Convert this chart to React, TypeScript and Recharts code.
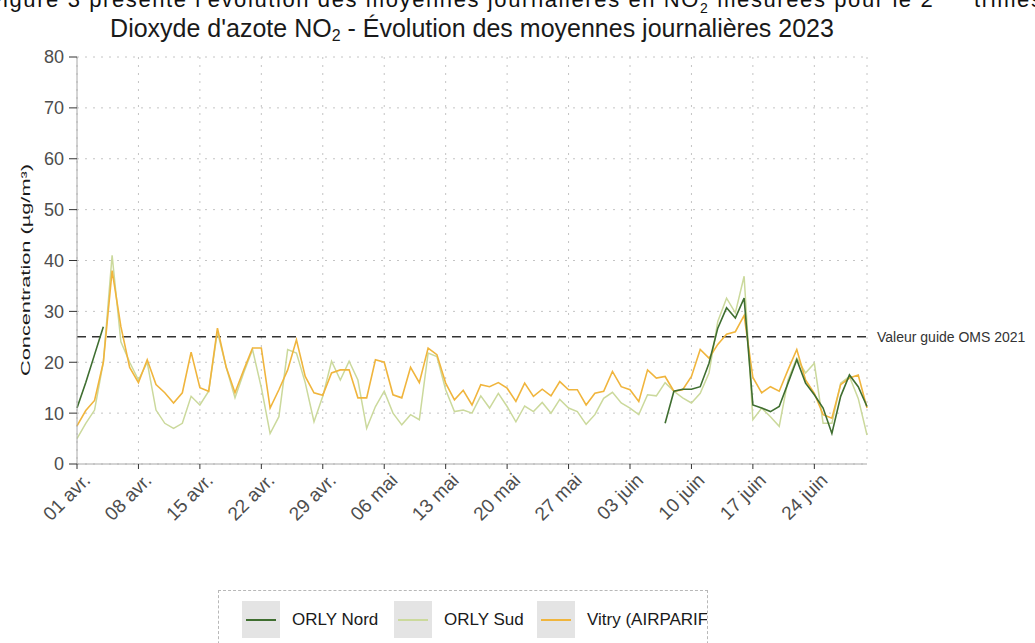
import { LineChart, Line, XAxis, YAxis, CartesianGrid, ReferenceLine } from 'recharts';

// day index 0 = 01 avr. 2023, 90 = 30 juin 2023
const tickDays = [0, 7, 14, 21, 28, 35, 42, 49, 56, 63, 70, 77, 84];
const tickLabels = ['01 avr.', '08 avr.', '15 avr.', '22 avr.', '29 avr.', '06 mai', '13 mai', '20 mai', '27 mai', '03 juin', '10 juin', '17 juin', '24 juin'];
const yTicks = [0, 10, 20, 30, 40, 50, 60, 70, 80];

// Vitry (AIRPARIF), daily means
const vitry = [
  7.5, 10.5, 12.5, 20, 38, 27, 19, 16, 20.5, 15.6,
  14, 12, 14, 22, 15, 14.3, 26.7, 19, 14, 18.5,
  22.8, 22.8, 11, 14.6, 18.5, 24.4, 17.2, 14, 13.5, 17.9,
  18.5, 18.5, 13, 13, 20.5, 20, 13.6, 13, 19, 16,
  22.8, 21.5, 15.9, 12.6, 14.5, 11.6, 15.6, 15.2, 16, 14.9,
  12.3, 15.9, 13.3, 14.7, 13.4, 16.2, 14.6, 14.6, 11.6, 13.9,
  14.3, 18.2, 15.2, 14.6, 12.3, 18.5, 16.9, 17.2, 14.3, 14.6,
  17.2, 22.5, 20.8, 23.5, 25.5, 26, 29.2, 17, 14, 15.2,
  14.3, 18.5, 22.5, 16.5, 13.9, 9.7, 9, 15.6, 16.9, 17.5,
  11,
];

// ORLY Sud, daily means
const orlySud = [
  5, 8, 10.6, 20, 41, 24, 20, 16.5, 20, 10.6,
  8, 7, 8, 13.3, 11.6, 14.3, 26, 19, 13, 18,
  22.5, 15, 6, 9.3, 22.5, 21.8, 16, 8.3, 13.3, 20.2,
  16.5, 20.2, 16.5, 7, 11.3, 14.3, 10, 7.7, 9.7, 8.7,
  21.8, 21.1, 14.6, 10.3, 10.6, 10, 13.4, 11, 13.9, 11.3,
  8.3, 11.4, 10.3, 12.1, 10, 12.7, 11, 10.3, 7.8, 9.7,
  12.9, 14.1, 12, 11, 9.7, 13.6, 13.4, 16, 14.3, 13,
  12, 13.9, 17.9, 28, 32.6, 29.7, 36.9, 8.7, 11, 9.3,
  7.4, 16.5, 20.8, 17.9, 19.8, 8, 8, 15.9, 17.2, 12.9,
  5.7,
];

// ORLY Nord: measured only at the start of April and from 07 juin
const orlyNordStart = [11, 16, 21.5, 27];
const orlyNordEndFrom = 67;
const orlyNordEnd = [
  8, 14.3, 14.7, 14.7, 15.2, 19.8, 26.7, 30.7, 28.7, 32.6,
  11.6, 11, 10.3, 11.3, 15.9, 20.5, 15.9, 13.6, 11, 6,
  13.3, 17.5, 15.2, 11.3,
];

const series = [
  { key: 'nord', name: 'ORLY Nord', color: '#3f6e30' },
  { key: 'sud', name: 'ORLY Sud', color: '#cbd99c' },
  { key: 'vitry', name: 'Vitry (AIRPARIF', color: '#f0b53d' },
];

const data = vitry.map((v, i) => {
  let nord: number | null = null;
  if (i < orlyNordStart.length) nord = orlyNordStart[i];
  else if (i >= orlyNordEndFrom) nord = orlyNordEnd[i - orlyNordEndFrom];
  return { day: i, vitry: v, sud: orlySud[i], nord };
});

const FONT = '"Liberation Sans", Arial, sans-serif';

function XTick({ x, y, payload }: any) {
  const idx = tickDays.indexOf(payload.value);
  const ax = x + 5;
  const ay = y + 1;
  return (
    <text
      x={ax}
      y={ay}
      transform={`rotate(-45, ${ax}, ${ay})`}
      textAnchor="end"
      dy="0.7em"
      fontSize={19}
      fontFamily={FONT}
      fill="#4d4d4d"
    >
      {idx >= 0 ? tickLabels[idx] : ''}
    </text>
  );
}

function YLabel() {
  return (
    <text
      x={25}
      y={270}
      transform="rotate(-90, 25, 270)"
      textAnchor="middle"
      dominantBaseline="central"
      fontSize={13.5}
      fontFamily={FONT}
      fill="#1a1a1a"
      textLength={212}
      lengthAdjust="spacingAndGlyphs"
    >
      Concentration (µg/m³)
    </text>
  );
}

export default function App() {
  return (
    <div style={{ position: 'absolute', left: 0, top: 0, width: 1035, height: 643, overflow: 'hidden', background: '#fff', fontFamily: FONT }}>
      {/* body text line above the figure, cut by the crop */}
      <div style={{ position: 'absolute', left: -12, top: -17.5, fontSize: 22, lineHeight: '22px', letterSpacing: 1.6, whiteSpace: 'nowrap', color: '#111', fontFamily: FONT }}>
        Figure 3 présente l'évolution des moyennes journalières en NO<sub style={{ fontSize: 14 }}>2</sub> mesurées pour le 2<sup style={{ fontSize: 14 }}>ème</sup> trimestre
      </div>
      <div style={{ position: 'absolute', left: 77, width: 790, top: 14, textAlign: 'center', fontSize: 25, color: '#1a1a1a', whiteSpace: 'nowrap' }}>
        Dioxyde d'azote NO<sub style={{ fontSize: 16, verticalAlign: '-0.25em' }}>2</sub> - Évolution des moyennes journalières 2023
      </div>

      <LineChart width={1035} height={643} data={data} margin={{ top: 57, right: 168, bottom: 119, left: 0 }}>
        <CartesianGrid stroke="#c4c4c4" strokeDasharray="2 6" />
        <XAxis
          type="number"
          dataKey="day"
          domain={[0, 90]}
          ticks={tickDays}
          interval={0}
          height={60}
          tickSize={5}
          tick={<XTick />}
          axisLine={{ stroke: '#a8a8a8' }}
          tickLine={{ stroke: '#333' }}
        />
        <YAxis
          domain={[0, 80]}
          ticks={yTicks}
          width={77}
          tickSize={8}
          tickMargin={5}
          tick={{ fontSize: 18, fill: '#4d4d4d', fontFamily: FONT }}
          axisLine={{ stroke: '#a8a8a8' }}
          tickLine={{ stroke: '#333' }}
          label={{ content: () => <YLabel /> }}
        />
        <ReferenceLine
          y={25}
          stroke="#333"
          strokeWidth={1.5}
          strokeDasharray="9 6"
          ifOverflow="visible"
          label={{ value: 'Valeur guide OMS 2021', position: 'right', offset: 10, fontSize: 14, fill: '#333', fontFamily: FONT }}
        />
        <Line dataKey="sud" stroke={series[1].color} strokeWidth={1.5} dot={false} isAnimationActive={false} />
        <Line dataKey="vitry" stroke={series[2].color} strokeWidth={1.6} dot={false} isAnimationActive={false} />
        <Line dataKey="nord" stroke={series[0].color} strokeWidth={1.6} dot={false} connectNulls={false} isAnimationActive={false} />
      </LineChart>

      <div style={{ position: 'absolute', left: 218, top: 590, width: 490, height: 80, border: '1px dashed #b8b8b8', boxSizing: 'border-box', overflow: 'hidden' }}>
        {series.map((s, i) => (
          <div key={s.key} style={{ position: 'absolute', left: [23, 175, 318][i], top: 10, display: 'flex', alignItems: 'center', whiteSpace: 'nowrap' }}>
            <div style={{ width: 38, height: 37, background: '#e4e4e4', position: 'relative' }}>
              <div style={{ position: 'absolute', left: 4, right: 4, top: 18, height: 2, background: s.color }} />
            </div>
            <span style={{ marginLeft: 12, fontSize: 17, color: '#1a1a1a' }}>{s.name}</span>
          </div>
        ))}
      </div>
    </div>
  );
}
